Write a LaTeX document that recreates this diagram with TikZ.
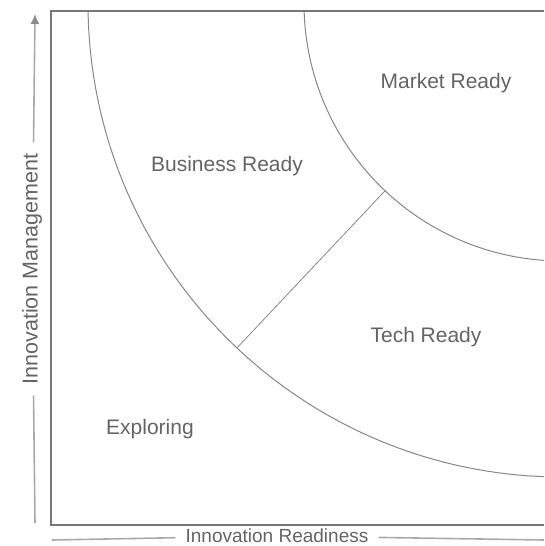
\documentclass[tikz,border=0pt]{standalone}
\usepackage{fontspec}
\setmainfont{Liberation Sans}
\usepackage{tikz}
\usetikzlibrary{arrows.meta,calc}
\definecolor{labgray}{RGB}{100,100,100}
\definecolor{boxgray}{RGB}{120,120,120}
\definecolor{arcgray}{RGB}{135,135,135}
\definecolor{axisgray}{RGB}{170,170,170}
\definecolor{tipgray}{RGB}{140,140,140}

\begin{document}
\begin{tikzpicture}[x=1pt,y=1pt,
  zone/.style={text=labgray,font=\fontsize{21}{25}\selectfont,anchor=base},
  axislab/.style={text=labgray,font=\fontsize{19}{23}\selectfont,anchor=mid,inner xsep=10pt},
  axisline/.style={draw=axisgray,line width=1.6pt}]
\useasboundingbox (0,0) rectangle (544,546);

\coordinate (C) at (562,543);
\begin{scope}
\clip (51,21) rectangle (544,535);
\draw[arcgray,line width=1pt] (C) circle (474);
\draw[arcgray,line width=1pt] (C) circle (258);
\end{scope}
\draw[arcgray,line width=0.8pt] ($(C)+(226.7:258)$) -- ($(C)+(226.7:474)$);
\draw[boxgray,line width=1.2pt] (544,535) -- (51,535) -- (51,21) -- (544,21);

\node[zone] (market) at (446,457) {Market Ready};
\node[zone] (business) at (227,374) {Business Ready};
\node[zone] (tech) at (426,203) {Tech Ready};
\node[zone] (explore) at (150,111) {Exploring};

\coordinate (ybot) at (35,23);
\coordinate (ytop) at (35,532);
\node[axislab,rotate=90,font=\fontsize{21.5}{25}\selectfont,inner xsep=11pt] (ylab) at (35,277) {Innovation Management};
\draw[axisline] (ybot) -- (ylab);
\draw[axisline,-{Latex[length=10pt,width=9pt,color=tipgray]}] (ylab) -- (ytop);

\coordinate (xleft) at (52,6);
\coordinate (xright) at (544,6);
\node[axislab] (xlab) at (277,6) {Innovation Readiness};
\draw[axisline] (xleft) -- (xlab);
\draw[axisline] (xlab) -- (xright);
\end{tikzpicture}
\end{document}
